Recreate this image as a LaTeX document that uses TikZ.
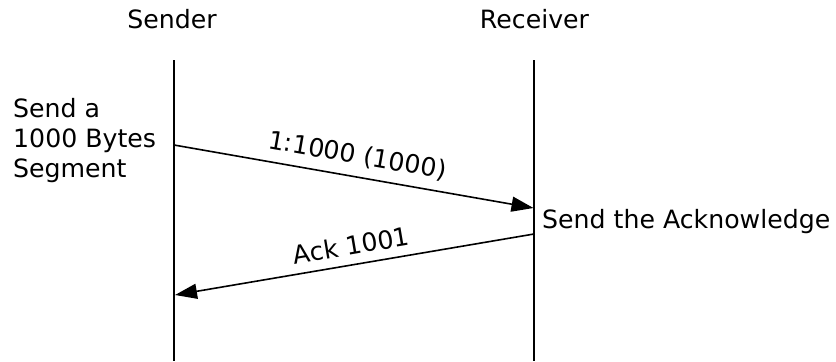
\documentclass[tikz,border=0pt]{standalone}
\usepackage{fontspec}
\setmainfont{DejaVu Sans}
\usetikzlibrary{arrows.meta}
\begin{document}
\begin{tikzpicture}[x=1bp,y=-1bp,
  every node/.style={font=\fontsize{25.2bp}{30bp}\selectfont, inner sep=0pt},
  life/.style={line width=1.6bp},
  msg/.style={line width=1.6bp, -{Triangle[length=22bp,width=15bp]}},
  lbl/.style={sloped, above=9bp}]
\useasboundingbox (0,0) rectangle (836,361);
\node[anchor=base] (snd) at (172,28) {Sender};
\node[anchor=base] (rcv) at (534.5,28) {Receiver};
\coordinate (s0) at (174,60);
\coordinate (s1) at (174,361);
\coordinate (r0) at (534,60);
\coordinate (r1) at (534,361);
\draw[life] (s0) -- (s1);
\draw[life] (r0) -- (r1);
\coordinate (m1a) at (174,145);
\coordinate (m1b) at (533.5,208);
\coordinate (m2a) at (534,234);
\coordinate (m2b) at (175,295);
\draw[msg] (m1a) -- node[lbl] (l1) {1:1000 (1000)} (m1b);
\draw[msg] (m2a) -- node[lbl] (l2) {Ack 1001} (m2b);
\node[anchor=base west] (lt1) at (13,117) {Send a};
\node[anchor=base west] (lt2) at (13,147) {1000 Bytes};
\node[anchor=base west] (lt3) at (13,177) {Segment};
\node[anchor=base west] (rt) at (542,228) {Send the Acknowledge};
\end{tikzpicture}
\end{document}
